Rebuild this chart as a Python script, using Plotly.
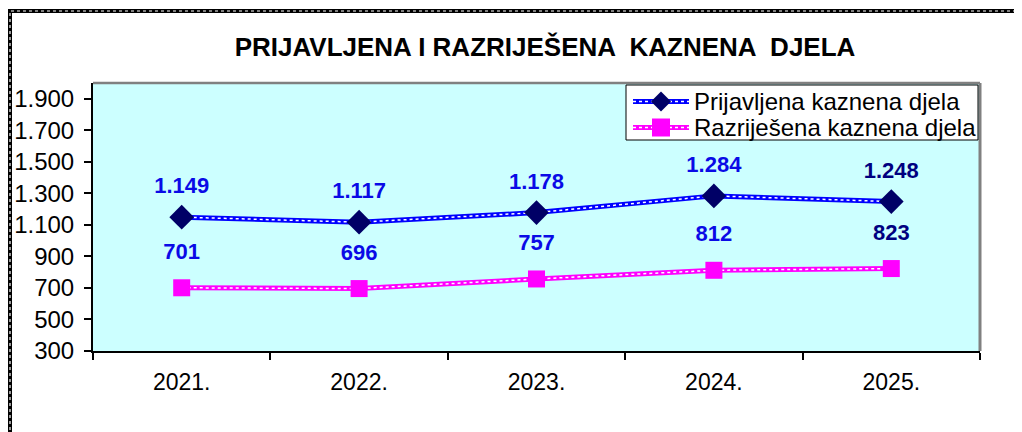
import plotly.graph_objects as go

years = ["2021.", "2022.", "2023.", "2024.", "2025."]
prijavljena = [1149, 1117, 1178, 1284, 1248]
razrijesena = [701, 696, 757, 812, 823]
label_colors = ["#0A0AE6", "#0A0AE6", "#0A0AE6", "#0A0AE6", "#000080"]
y_ticks = [300, 500, 700, 900, 1100, 1300, 1500, 1700, 1900]

name1 = "Prijavljena kaznena djela"
name2 = "Razriješena kaznena djela"

FONT = "Arial, Liberation Sans, sans-serif"
BODY = 8  # default page margin of the html body
L, R, T, B = 93, 980, 83, 351  # plot area in page pixels


def fmt(v):
    return f"{v:,}".replace(",", ".")


def px(x):
    return (x - L) / (R - L)


def py(y):
    return (B - y) / (B - T)


fig = go.Figure()


def add_series(vals, name, lc, mc, symbol, msize, label_gap):
    fig.add_trace(go.Scatter(x=years, y=vals, mode="lines", name=name, showlegend=False,
                             line=dict(color=lc, width=5)))
    fig.add_trace(go.Scatter(x=years, y=vals, mode="lines", showlegend=False,
                             line=dict(color="white", width=1.5, dash="dot"), hoverinfo="skip"))
    fig.add_trace(go.Scatter(x=years, y=vals, mode="markers", showlegend=False,
                             marker=dict(symbol=symbol, size=msize, color=mc)))
    # data labels: text above an invisible marker that sets the gap
    fig.add_trace(go.Scatter(x=years, y=vals, mode="markers+text", showlegend=False,
                             text=["<b>" + fmt(v) + "</b>" for v in vals],
                             textposition="top center",
                             textfont=dict(family=FONT, size=22, color=label_colors),
                             marker=dict(size=label_gap, color="rgba(0,0,0,0)"),
                             hoverinfo="skip"))


add_series(prijavljena, name1, "#0000FF", "#000066", "diamond", 19, 28)
add_series(razrijesena, name2, "#FF00FF", "#FF00FF", "square", 17, 36)

shapes = [
    # outer dashed frame
    dict(type="rect", xref="paper", yref="paper", x0=px(10), x1=px(1040), y0=py(445), y1=py(11),
         line=dict(color="black", width=4), layer="below"),
    dict(type="rect", xref="paper", yref="paper", x0=px(10), x1=px(1040), y0=py(445), y1=py(11),
         line=dict(color="white", width=1.2, dash="dot"), layer="below"),
    # grey top and right border of plot area
    dict(type="line", xref="paper", yref="paper", x0=0, x1=1, y0=1, y1=1,
         line=dict(color="#808080", width=2.5)),
    dict(type="line", xref="paper", yref="paper", x0=1, x1=1, y0=0, y1=1,
         line=dict(color="#808080", width=3)),
    # legend box
    dict(type="rect", xref="paper", yref="paper", x0=px(626), x1=px(978), y0=py(140), y1=py(85),
         line=dict(color="black", width=1), fillcolor="white"),
]

legend_rows = [
    (name1, 101.5, "#0000FF", "#000066", "M -10 0 L 0 -10 L 10 0 L 0 10 Z"),
    (name2, 127.5, "#FF00FF", "#FF00FF", "M -9 -9 L 9 -9 L 9 9 L -9 9 Z"),
]
for name, ry, lc, mc, path in legend_rows:
    shapes.append(dict(type="line", xref="paper", yref="paper", x0=px(633), x1=px(689),
                       y0=py(ry), y1=py(ry), line=dict(color=lc, width=5)))
    shapes.append(dict(type="line", xref="paper", yref="paper", x0=px(633), x1=px(689),
                       y0=py(ry), y1=py(ry), line=dict(color="white", width=1.5, dash="dot")))
    shapes.append(dict(type="path", xref="paper", yref="paper", xsizemode="pixel", ysizemode="pixel",
                       xanchor=px(661), yanchor=py(ry), path=path,
                       fillcolor=mc, line=dict(color=mc, width=0)))
    fig.add_annotation(xref="paper", yref="paper", x=px(692), y=py(ry), xanchor="left",
                       yanchor="middle", text=name, showarrow=False,
                       font=dict(family=FONT, size=24, color="black"))

fig.update_layout(
    width=1022, height=432,
    margin=dict(l=L - BODY, r=1022 + BODY - R, t=T - BODY, b=432 + BODY - B),
    paper_bgcolor="white", plot_bgcolor="#CCFFFF",
    title=dict(text="<b>PRIJAVLJENA I RAZRIJEŠENA  KAZNENA  DJELA</b>",
               x=(545 - BODY) / 1022, xanchor="center", xref="container",
               y=1 - (47 - BODY) / 432, yanchor="middle", yref="container",
               font=dict(family=FONT, size=26, color="black")),
    font=dict(family=FONT, color="black"),
    showlegend=False,
    shapes=shapes,
)

fig.update_xaxes(type="category", range=[-0.5, 4.5], showgrid=False, automargin=False,
                 showline=True, linecolor="black", linewidth=2,
                 ticks="outside", tickson="boundaries", ticklen=7, tickcolor="black", tickwidth=1.5,
                 tickfont=dict(size=23, color="black"), ticklabelstandoff=9)
fig.update_yaxes(range=[300, 2000], tickvals=y_ticks, ticktext=[fmt(v) for v in y_ticks],
                 showgrid=False, zeroline=False, automargin=False,
                 showline=True, linecolor="black", linewidth=2,
                 ticks="outside", ticklen=7, tickcolor="black", tickwidth=1.5,
                 tickfont=dict(size=24, color="black"), ticklabelstandoff=5)

fig.write_html("out.html")
